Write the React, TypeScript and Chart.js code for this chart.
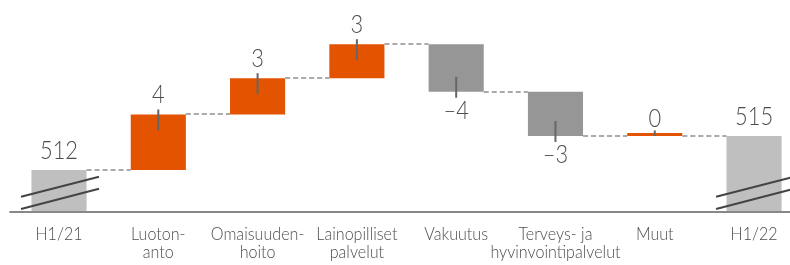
import React, { useEffect, useRef } from "react";
import { Chart, registerables } from "chart.js";
Chart.register(...registerables);

// ---- data ----
const categoryLines: string[][] = [
  ["H1/21"],
  ["Luoton-", "anto"],
  ["Omaisuuden-", "hoito"],
  ["Lainopilliset", "palvelut"],
  ["Vakuutus"],
  ["Terveys- ja", "hyvinvointipalvelut"],
  ["Muut"],
  ["H1/22"],
];
const startTotal = 512;
const endTotal = 515;
// heights of the change bars as drawn in the chart
const changeHeights = [4.9, 3.2, 3.0, -4.2, -3.9, 0];
// rounded values printed on the change bars
const changeLabels = ["4", "3", "3", "–4", "–3", "0"];
const totalLabels = ["512", "515"];
// visible part of the (broken) value axis
const axisBase = 508.29;
const axisTop = 527.0;

const ORANGE = "#E35300";
const NEG_GREY = "#969696";
const TOTAL_GREY = "#BFBFBF";
const TEXT = "#4D4D4D";
const LINE_DARK = "#666666";

// build floating ranges for the waterfall
const ranges: number[][] = [];
const levels: number[] = [];
ranges.push([axisBase, startTotal]);
levels.push(startTotal);
let lvl = startTotal;
changeHeights.forEach((d) => {
  ranges.push([lvl, lvl + d]);
  lvl = lvl + d;
  levels.push(lvl);
});
ranges.push([axisBase, endTotal]);
levels.push(endTotal);

const barColors = ranges.map((r, i) => {
  if (i === 0 || i === ranges.length - 1) return TOTAL_GREY;
  return changeHeights[i - 1] < 0 ? NEG_GREY : ORANGE;
});

function drawText(ctx: CanvasRenderingContext2D, t: string, x: number, y: number, font: string, sx: number) {
  ctx.save();
  ctx.font = font;
  ctx.fillStyle = TEXT;
  ctx.textAlign = "center";
  ctx.textBaseline = "alphabetic";
  ctx.translate(x, y);
  ctx.scale(sx, 1);
  ctx.fillText(t, 0, 0);
  ctx.restore();
}

const overlay = {
  id: "waterfallOverlay",
  afterDatasetsDraw(chart: any) {
    const ctx: CanvasRenderingContext2D = chart.ctx;
    const meta = chart.getDatasetMeta(0);
    const y = chart.scales.y;
    const area = chart.chartArea;
    const els = meta.data;

    // connectors
    ctx.save();
    ctx.strokeStyle = "#AAAAAA";
    ctx.lineWidth = 2;
    ctx.setLineDash([5, 3]);
    for (let i = 0; i < els.length - 1; i++) {
      const a = els[i];
      const b = els[i + 1];
      const py = Math.round(y.getPixelForValue(levels[i]));
      ctx.beginPath();
      ctx.moveTo(a.x + a.width / 2, py);
      ctx.lineTo(b.x - b.width / 2, py);
      ctx.stroke();
    }
    ctx.restore();

    // axis line
    ctx.save();
    ctx.fillStyle = "#888888";
    ctx.fillRect(area.left, area.bottom - 1, chart.width - area.left, 2);
    ctx.restore();

    // break marks on total bars
    [0, els.length - 1].forEach((i) => {
      const cx = els[i].x;
      ctx.save();
      ctx.strokeStyle = "#444444";
      ctx.lineWidth = 2;
      [[-15.3, -35.3], [-3, -23.3]].forEach(([y1, y2]) => {
        ctx.beginPath();
        ctx.moveTo(cx - 38, area.bottom + y1);
        ctx.lineTo(cx + 40, area.bottom + y2);
        ctx.stroke();
      });
      ctx.restore();
    });

    const valueFont = "300 26px Lato";
    // value labels
    els.forEach((el: any, i: number) => {
      const top = Math.min(el.y, el.base);
      const bottom = Math.max(el.y, el.base);
      if (i === 0 || i === els.length - 1) {
        drawText(ctx, totalLabels[i === 0 ? 0 : 1], el.x, top - 11, valueFont, 0.84);
        return;
      }
      const d = changeHeights[i - 1];
      const label = changeLabels[i - 1];
      ctx.save();
      ctx.strokeStyle = LINE_DARK;
      ctx.lineWidth = 2;
      ctx.beginPath();
      if (d > 0) {
        ctx.moveTo(el.x, top - 5);
        ctx.lineTo(el.x, top + 16);
      } else if (d < 0) {
        ctx.moveTo(el.x, bottom - 15);
        ctx.lineTo(el.x, bottom + 6);
      } else {
        const lp = y.getPixelForValue(levels[i]);
        ctx.moveTo(el.x, lp - 5.5);
        ctx.lineTo(el.x, lp);
      }
      ctx.stroke();
      ctx.restore();
      if (d > 0) drawText(ctx, label, el.x, top - 11, valueFont, 0.84);
      else if (d < 0) drawText(ctx, label, el.x, bottom + 27.5, valueFont, 0.84);
      else drawText(ctx, label, el.x, y.getPixelForValue(levels[i]) - 9, valueFont, 0.84);
    });

    // category labels
    const catFont = "300 18.5px Lato";
    els.forEach((el: any, i: number) => {
      categoryLines[i].forEach((line, k) => {
        drawText(ctx, line, el.x, 240 + k * 18.3, catFont, 0.87);
      });
    });
  },
};

export default function App() {
  const ref = useRef<HTMLCanvasElement | null>(null);
  useEffect(() => {
    if (!ref.current) return;
    const chart = new Chart(ref.current, {
      type: "bar",
      data: {
        labels: categoryLines.map((l) => l.join(" ")),
        datasets: [
          {
            data: ranges as any,
            backgroundColor: barColors,
            borderWidth: 0,
            borderSkipped: false,
            minBarLength: 3,
            categoryPercentage: 1,
            barPercentage: 0.555,
          },
        ],
      },
      options: {
        responsive: false,
        animation: false,
        events: [],
        layout: { padding: { left: 9.36, right: 10.3, top: 0, bottom: 53 } },
        plugins: { legend: { display: false }, tooltip: { enabled: false } },
        scales: {
          x: { display: false },
          y: { display: false, min: axisBase, max: axisTop },
        },
      },
      plugins: [overlay],
    });
    return () => chart.destroy();
  }, []);
  return (
    <div style={{ position: "absolute", left: 0, top: 0, width: 790, height: 265, overflow: "hidden", background: "#fff" }}>
      <canvas ref={ref} width={814} height={265} style={{ display: "block" }} />
    </div>
  );
}
